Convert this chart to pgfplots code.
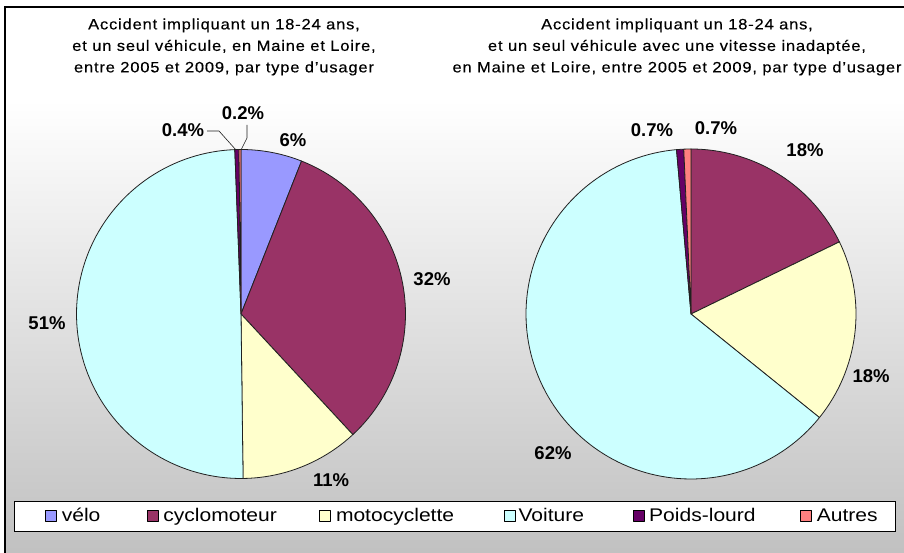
\documentclass[border=0pt]{standalone}
\usepackage{fontspec}
\setmainfont{Liberation Sans}
\newfontfamily\titlefont[FakeStretch=1.1,LetterSpace=5.5,FakeBold=0.3]{Liberation Sans}
\newfontfamily\legfont[FakeStretch=1.15]{Liberation Sans}
\usepackage{pgfplots}
\usepackage{pgfplotstable}
\pgfplotsset{compat=1.18}

\definecolor{cvelo}{HTML}{9999FF}
\definecolor{ccyclo}{HTML}{993366}
\definecolor{cmoto}{HTML}{FFFFCC}
\definecolor{cvoit}{HTML}{CCFFFF}
\definecolor{cpl}{HTML}{660066}
\definecolor{caut}{HTML}{FF8080}
\definecolor{edgec}{HTML}{202020}
\definecolor{bgbot}{HTML}{C0C0C0}

% share of each type of user, clockwise from 12 o'clock
\pgfplotstableread{
val col
6.0 cvelo
32.1 ccyclo
11.7 cmoto
49.6 cvoit
0.4 cpl
0.2 caut
}\pieA
\pgfplotstableread{
val col
0 cvelo
17.8 ccyclo
18.0 cmoto
62.8 cvoit
0.7 cpl
0.7 caut
}\pieB

\newcommand\drawpie[5]{%
  \def\pieCum{0}%
  \pgfplotsforeachungrouped \pieI in {0,...,5}{%
    \pgfplotstablegetelem{\pieI}{val}\of{#1}\let\pieV\pgfplotsretval
    \pgfplotstablegetelem{\pieI}{col}\of{#1}\let\pieC\pgfplotsretval
    \pgfmathsetmacro\pieS{3.6*\pieCum}%
    \pgfmathsetmacro\pieCum{\pieCum+\pieV}%
    \pgfmathsetmacro\pieE{3.6*\pieCum}%
    \pgfmathtruncatemacro\pieN{max(3,(\pieE-\pieS)/2+2)}%
    \pgfmathtruncatemacro\piePos{\pieV>0 ? 1 : 0}%
    \ifnum\piePos=1
      \edef\pieTmp{\noexpand\addplot[fill=\pieC, draw=edgec, line width=0.8pt, line join=round, domain=\pieS:\pieE, samples=\pieN#5] ({#2+#4*sin(x)},{#3+#4*cos(x)}) -- (#2,#3) -- cycle;}%
      \pieTmp
    \fi
  }%
}

\begin{document}
\begin{tikzpicture}
\clip (0pt,0pt) rectangle (904pt,553pt);
\fill[white] (5pt,546pt) rectangle (910pt,453pt);
\shade[top color=white, bottom color=bgbot] (5pt,453pt) rectangle (910pt,-5pt);
\draw[black, line width=1.5pt] (5pt,-10pt) -- (5pt,546pt) -- (910pt,546pt);
% legend frame
\draw[black, line width=0.9pt, fill=white] (14pt,22pt) rectangle (895pt,52pt);
\begin{axis}[at={(0pt,0pt)}, anchor=south west, width=904pt, height=553pt,
  scale only axis, xmin=0, xmax=904, ymin=0, ymax=553, hide axis, clip=false,
  legend columns=6,
  legend image code/.code={\draw[#1, draw=black, line width=0.6pt] (0pt,-5.5pt) rectangle (11pt,5.5pt);},
  legend style={at={(axis cs:45,37)}, anchor=west, draw=none, fill=none,
    font=\legfont\fontsize{18.3}{20}\selectfont, inner xsep=0pt, inner ysep=2pt,
    /tikz/every even column/.append style={column sep=0pt}},
  legend entries={\makebox[86pt][l]{\hspace*{3pt}vélo},\makebox[157pt][l]{\hspace*{3pt}cyclomoteur},\makebox[169pt][l]{\hspace*{3pt}motocyclette},\makebox[113pt][l]{\hspace*{1pt}Voiture},\makebox[152pt][l]{\hspace*{3pt}Poids-lourd},\makebox[70pt][l]{\hspace*{3pt}Autres}},
]
\drawpie{\pieA}{241}{239}{164.5}{}
\drawpie{\pieB}{691}{239}{165}{, forget plot}

\node[align=center, font=\titlefont\fontsize{15}{21.5}\selectfont] at (224,506) {Accident impliquant un 18-24 ans,\\et un seul véhicule, en Maine et Loire,\\entre 2005 et 2009, par type d’usager};
\node[align=center, font=\titlefont\fontsize{15}{21.5}\selectfont] at (677,506) {Accident impliquant un 18-24 ans,\\et un seul véhicule avec une vitesse inadaptée,\\en Maine et Loire, entre 2005 et 2009, par type d’usager};

\begin{scope}[every node/.style={font=\bfseries\fontsize{18.5}{18}\selectfont}]
\node at (293,413) {6\%};
\node at (432,274) {32\%};
\node at (331,73) {11\%};
\node at (47,230) {51\%};
\node at (183,423) {0.4\%};
\node at (243,440) {0.2\%};
\node at (805,403) {18\%};
\node at (871,177) {18\%};
\node at (553,100) {62\%};
\node at (652,423) {0.7\%};
\node at (716,425) {0.7\%};
\end{scope}
\draw[edgec, line width=0.6pt] (207,422) -- (219,422) -- (236,403);
\draw[edgec, line width=0.6pt] (247,428) -- (247,415) -- (241,403);
\end{axis}
\end{tikzpicture}
\end{document}
